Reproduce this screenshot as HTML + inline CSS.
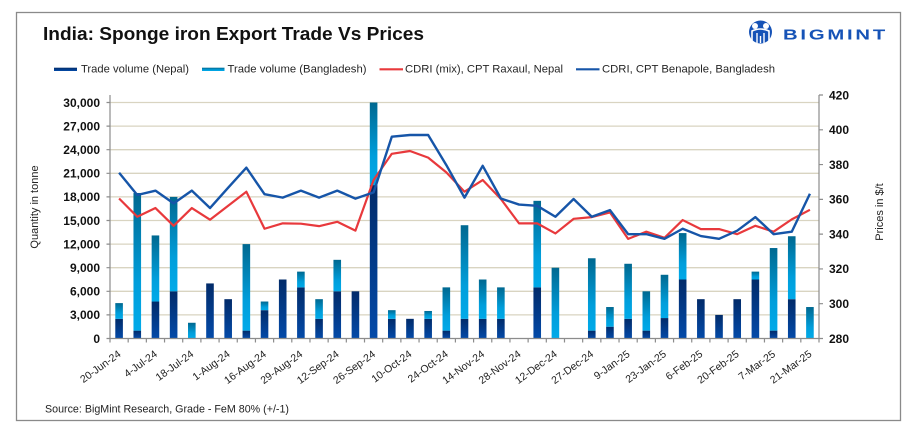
<!DOCTYPE html>
<html>
<head>
<meta charset="utf-8">
<style>
html,body{margin:0;padding:0;background:#fff;}
svg{display:block;}
text{font-family:"Liberation Sans",sans-serif;}
</style>
</head>
<body>
<svg width="919" height="438" viewBox="0 0 919 438" xmlns="http://www.w3.org/2000/svg">
<defs>
<linearGradient id="gn" x1="0" y1="0" x2="0" y2="1">
<stop offset="0" stop-color="#022b69"/>
<stop offset="1" stop-color="#034aa9"/>
</linearGradient>
<linearGradient id="gb" x1="0" y1="0" x2="0" y2="1">
<stop offset="0" stop-color="#006890"/>
<stop offset="0.65" stop-color="#009edb"/>
<stop offset="1" stop-color="#00aae9"/>
</linearGradient>
</defs>
<rect x="0" y="0" width="919" height="438" fill="#fff"/>
<rect x="16.5" y="12.5" width="884" height="408" fill="none" stroke="#8a8a8a" stroke-width="1.3"/>

<!-- Title -->
<text x="43" y="40" font-size="18.5" font-weight="bold" fill="#111" textLength="381" lengthAdjust="spacingAndGlyphs">India: Sponge iron Export Trade Vs Prices</text>

<!-- Logo -->
<g>
<circle cx="760.5" cy="32" r="11.5" fill="#1653b7"/>
<circle cx="755" cy="26" r="3" fill="#fff"/>
<circle cx="766" cy="26" r="3" fill="#fff"/>
<path d="M752 43 L752 31 Q760.5 27 769 31 L769 43" fill="none" stroke="#fff" stroke-width="1.6"/>
<path d="M757 43 L757 33 M764 43 L764 33 M760.5 43 L760.5 36" stroke="#fff" stroke-width="1.4"/>
<text x="783" y="39.5" font-size="14.5" font-weight="bold" fill="#1653b7" textLength="105" lengthAdjust="spacingAndGlyphs" letter-spacing="2">BIGMINT</text>
</g>

<!-- Legend -->
<g font-size="11" fill="#262626">
<rect x="54" y="67.7" width="23" height="3.3" fill="url(#gn)"/>
<text x="81" y="72.5" textLength="108" lengthAdjust="spacingAndGlyphs">Trade volume (Nepal)</text>
<rect x="202" y="67.7" width="22.5" height="3.3" fill="url(#gb)"/>
<text x="227.5" y="72.5" textLength="139" lengthAdjust="spacingAndGlyphs">Trade volume (Bangladesh)</text>
<line x1="379.5" y1="69.3" x2="403" y2="69.3" stroke="#e8393c" stroke-width="2.2"/>
<text x="405" y="72.5" textLength="158" lengthAdjust="spacingAndGlyphs">CDRI (mix), CPT Raxaul, Nepal</text>
<line x1="576" y1="69.3" x2="599.5" y2="69.3" stroke="#1655a8" stroke-width="2.2"/>
<text x="602" y="72.5" textLength="173" lengthAdjust="spacingAndGlyphs">CDRI, CPT Benapole, Bangladesh</text>
</g>

<!-- Gridlines -->
<g stroke="#d9d4c1" stroke-width="1.3">
<line x1="110" y1="314.9" x2="819" y2="314.9"/>
<line x1="110" y1="291.3" x2="819" y2="291.3"/>
<line x1="110" y1="267.7" x2="819" y2="267.7"/>
<line x1="110" y1="244.1" x2="819" y2="244.1"/>
<line x1="110" y1="220.5" x2="819" y2="220.5"/>
<line x1="110" y1="196.9" x2="819" y2="196.9"/>
<line x1="110" y1="173.3" x2="819" y2="173.3"/>
<line x1="110" y1="149.7" x2="819" y2="149.7"/>
<line x1="110" y1="126.1" x2="819" y2="126.1"/>
<line x1="110" y1="102.5" x2="819" y2="102.5"/>
</g>

<!-- Bars: Nepal -->
<g fill="url(#gn)">
<rect x="115.29" y="318.83" width="7.6" height="19.67"/>
<rect x="133.47" y="330.63" width="7.6" height="7.87"/>
<rect x="151.65" y="301.53" width="7.6" height="36.97"/>
<rect x="169.83" y="291.3" width="7.6" height="47.2"/>
<rect x="206.19" y="283.43" width="7.6" height="55.07"/>
<rect x="224.37" y="299.17" width="7.6" height="39.33"/>
<rect x="242.55" y="330.63" width="7.6" height="7.87"/>
<rect x="260.73" y="310.18" width="7.6" height="28.32"/>
<rect x="278.91" y="279.5" width="7.6" height="59"/>
<rect x="297.09" y="287.37" width="7.6" height="51.13"/>
<rect x="315.27" y="318.83" width="7.6" height="19.67"/>
<rect x="333.45" y="291.3" width="7.6" height="47.2"/>
<rect x="351.63" y="291.3" width="7.6" height="47.2"/>
<rect x="369.81" y="185.1" width="7.6" height="153.4"/>
<rect x="387.99" y="318.83" width="7.6" height="19.67"/>
<rect x="406.17" y="318.83" width="7.6" height="19.67"/>
<rect x="424.35" y="318.83" width="7.6" height="19.67"/>
<rect x="442.53" y="330.63" width="7.6" height="7.87"/>
<rect x="460.71" y="318.83" width="7.6" height="19.67"/>
<rect x="478.89" y="318.83" width="7.6" height="19.67"/>
<rect x="497.07" y="318.83" width="7.6" height="19.67"/>
<rect x="533.43" y="287.37" width="7.6" height="51.13"/>
<rect x="587.97" y="330.63" width="7.6" height="7.87"/>
<rect x="606.15" y="326.7" width="7.6" height="11.8"/>
<rect x="624.33" y="318.83" width="7.6" height="19.67"/>
<rect x="642.51" y="330.63" width="7.6" height="7.87"/>
<rect x="660.69" y="318.05" width="7.6" height="20.45"/>
<rect x="678.87" y="279.5" width="7.6" height="59"/>
<rect x="697.05" y="299.17" width="7.6" height="39.33"/>
<rect x="715.23" y="314.9" width="7.6" height="23.6"/>
<rect x="733.41" y="299.17" width="7.6" height="39.33"/>
<rect x="751.59" y="279.5" width="7.6" height="59"/>
<rect x="769.77" y="330.63" width="7.6" height="7.87"/>
<rect x="787.95" y="299.17" width="7.6" height="39.33"/>
</g>

<!-- Bars: Bangladesh -->
<g fill="url(#gb)">
<rect x="115.29" y="303.1" width="7.6" height="15.73"/>
<rect x="133.47" y="192.97" width="7.6" height="137.66"/>
<rect x="151.65" y="235.45" width="7.6" height="66.08"/>
<rect x="169.83" y="196.9" width="7.6" height="94.4"/>
<rect x="188.01" y="322.77" width="7.6" height="15.73"/>
<rect x="242.55" y="244.1" width="7.6" height="86.53"/>
<rect x="260.73" y="301.53" width="7.6" height="8.65"/>
<rect x="297.09" y="271.63" width="7.6" height="15.74"/>
<rect x="315.27" y="299.17" width="7.6" height="19.66"/>
<rect x="333.45" y="259.83" width="7.6" height="31.47"/>
<rect x="369.81" y="102.5" width="7.6" height="82.6"/>
<rect x="387.99" y="310.18" width="7.6" height="8.65"/>
<rect x="424.35" y="310.97" width="7.6" height="7.86"/>
<rect x="442.53" y="287.37" width="7.6" height="43.26"/>
<rect x="460.71" y="225.22" width="7.6" height="93.61"/>
<rect x="478.89" y="279.5" width="7.6" height="39.33"/>
<rect x="497.07" y="287.37" width="7.6" height="31.46"/>
<rect x="533.43" y="200.83" width="7.6" height="86.54"/>
<rect x="551.61" y="267.7" width="7.6" height="70.8"/>
<rect x="587.97" y="258.26" width="7.6" height="72.37"/>
<rect x="606.15" y="307.03" width="7.6" height="19.67"/>
<rect x="624.33" y="263.77" width="7.6" height="55.06"/>
<rect x="642.51" y="291.3" width="7.6" height="39.33"/>
<rect x="660.69" y="274.78" width="7.6" height="43.27"/>
<rect x="678.87" y="233.09" width="7.6" height="46.41"/>
<rect x="751.59" y="271.63" width="7.6" height="7.87"/>
<rect x="769.77" y="248.03" width="7.6" height="82.6"/>
<rect x="787.95" y="236.23" width="7.6" height="62.94"/>
<rect x="806.13" y="307.03" width="7.6" height="31.47"/>
</g>

<!-- Lines -->
<polyline fill="none" stroke="#e8393c" stroke-width="2.2" stroke-linejoin="round" points="119.09,198.49 137.27,216.75 155.45,208.05 173.63,225.79 191.81,208.05 209.99,219.71 228.17,205.79 246.35,191.7 264.53,228.75 282.71,223.36 300.89,223.71 319.07,226.14 337.25,221.79 355.43,230.66 373.61,180.05 391.79,153.79 409.97,151 428.15,157.61 446.33,172.4 464.51,191.7 482.69,180.05 500.87,199.01 519.05,223.36 537.23,223.36 555.41,233.45 573.59,218.84 591.77,217.1 609.95,212.4 628.13,238.84 646.31,231.71 664.49,237.8 682.67,220.05 700.85,229.1 719.03,229.1 737.21,234.14 755.39,225.79 773.57,231.71 791.75,219.36 809.93,209.79"/>
<polyline fill="none" stroke="#1655a8" stroke-width="2.4" stroke-linejoin="round" points="119.09,172.75 137.27,195.01 155.45,190.66 173.63,203.36 191.81,190.66 209.99,208.05 228.17,187.7 246.35,167.7 264.53,194.14 282.71,197.62 300.89,190.66 319.07,197.62 337.25,190.66 355.43,198.66 373.61,192.4 391.79,136.74 409.97,135 428.15,135 446.33,165.09 464.51,197.62 482.69,165.79 500.87,198.49 519.05,204.57 537.23,205.79 555.41,216.75 573.59,199.01 591.77,216.75 609.95,210.14 628.13,234.14 646.31,234.14 664.49,238.84 682.67,228.75 700.85,236.06 719.03,238.84 737.21,230.66 755.39,217.1 773.57,234.14 791.75,231.71 809.93,193.79"/>

<!-- Axes -->
<g stroke="#8c8c8c" stroke-width="1.2" fill="none">
<line x1="110" y1="95" x2="110" y2="338.5"/>
<line x1="819" y1="95" x2="819" y2="338.5"/>
<line x1="110" y1="338.5" x2="819" y2="338.5"/>
<path d="M106.5 338.5H110M106.5 314.9H110M106.5 291.3H110M106.5 267.7H110M106.5 244.1H110M106.5 220.5H110M106.5 196.9H110M106.5 173.3H110M106.5 149.7H110M106.5 126.1H110M106.5 102.5H110"/>
<path d="M819 338.5H823M819 303.71H823M819 268.93H823M819 234.14H823M819 199.36H823M819 164.57H823M819 129.79H823M819 95H823"/>
<path d="M110 338.5V342.5M128.18 338.5V342.5M146.36 338.5V342.5M164.54 338.5V342.5M182.72 338.5V342.5M200.9 338.5V342.5M219.08 338.5V342.5M237.26 338.5V342.5M255.44 338.5V342.5M273.62 338.5V342.5M291.8 338.5V342.5M309.97 338.5V342.5M328.15 338.5V342.5M346.33 338.5V342.5M364.51 338.5V342.5M382.69 338.5V342.5M400.87 338.5V342.5M419.05 338.5V342.5M437.23 338.5V342.5M455.41 338.5V342.5M473.59 338.5V342.5M491.77 338.5V342.5M509.95 338.5V342.5M528.13 338.5V342.5M546.31 338.5V342.5M564.49 338.5V342.5M582.67 338.5V342.5M600.85 338.5V342.5M619.03 338.5V342.5M637.21 338.5V342.5M655.39 338.5V342.5M673.56 338.5V342.5M691.74 338.5V342.5M709.92 338.5V342.5M728.1 338.5V342.5M746.28 338.5V342.5M764.46 338.5V342.5M782.64 338.5V342.5M800.82 338.5V342.5M819 338.5V342.5"/>
</g>

<!-- Left axis labels -->
<g font-size="12" font-weight="bold" fill="#111" text-anchor="end">
<text x="100" y="342.8">0</text>
<text x="100" y="319.2">3,000</text>
<text x="100" y="295.6">6,000</text>
<text x="100" y="272">9,000</text>
<text x="100" y="248.4">12,000</text>
<text x="100" y="224.8">15,000</text>
<text x="100" y="201.2">18,000</text>
<text x="100" y="177.6">21,000</text>
<text x="100" y="154">24,000</text>
<text x="100" y="130.4">27,000</text>
<text x="100" y="106.8">30,000</text>
</g>

<!-- Right axis labels -->
<g font-size="12" font-weight="bold" fill="#111">
<text x="829" y="342.8">280</text>
<text x="829" y="308">300</text>
<text x="829" y="273.2">320</text>
<text x="829" y="238.4">340</text>
<text x="829" y="203.7">360</text>
<text x="829" y="168.9">380</text>
<text x="829" y="134.1">400</text>
<text x="829" y="99.3">420</text>
</g>

<!-- Axis titles -->
<text transform="translate(38,207) rotate(-90)" text-anchor="middle" font-size="11" fill="#222">Quantity in tonne</text>
<text transform="translate(883,212) rotate(-90)" text-anchor="middle" font-size="11" fill="#222">Prices in $/t</text>

<!-- X labels -->
<g font-size="10.5" fill="#222" text-anchor="end">
<text transform="translate(121.6,355.5) rotate(-36)">20-Jun-24</text>
<text transform="translate(157.95,355.5) rotate(-36)">4-Jul-24</text>
<text transform="translate(194.31,355.5) rotate(-36)">18-Jul-24</text>
<text transform="translate(230.67,355.5) rotate(-36)">1-Aug-24</text>
<text transform="translate(267.03,355.5) rotate(-36)">16-Aug-24</text>
<text transform="translate(303.39,355.5) rotate(-36)">29-Aug-24</text>
<text transform="translate(339.75,355.5) rotate(-36)">12-Sep-24</text>
<text transform="translate(376.11,355.5) rotate(-36)">26-Sep-24</text>
<text transform="translate(412.47,355.5) rotate(-36)">10-Oct-24</text>
<text transform="translate(448.83,355.5) rotate(-36)">24-Oct-24</text>
<text transform="translate(485.19,355.5) rotate(-36)">14-Nov-24</text>
<text transform="translate(521.55,355.5) rotate(-36)">28-Nov-24</text>
<text transform="translate(557.91,355.5) rotate(-36)">12-Dec-24</text>
<text transform="translate(594.27,355.5) rotate(-36)">27-Dec-24</text>
<text transform="translate(630.63,355.5) rotate(-36)">9-Jan-25</text>
<text transform="translate(666.99,355.5) rotate(-36)">23-Jan-25</text>
<text transform="translate(703.35,355.5) rotate(-36)">6-Feb-25</text>
<text transform="translate(739.71,355.5) rotate(-36)">20-Feb-25</text>
<text transform="translate(776.07,355.5) rotate(-36)">7-Mar-25</text>
<text transform="translate(812.43,355.5) rotate(-36)">21-Mar-25</text>
</g>

<!-- Source -->
<text x="45" y="412.5" font-size="11" fill="#222" textLength="244" lengthAdjust="spacingAndGlyphs">Source: BigMint Research, Grade - FeM 80% (+/-1)</text>
</svg>
</body>
</html>
